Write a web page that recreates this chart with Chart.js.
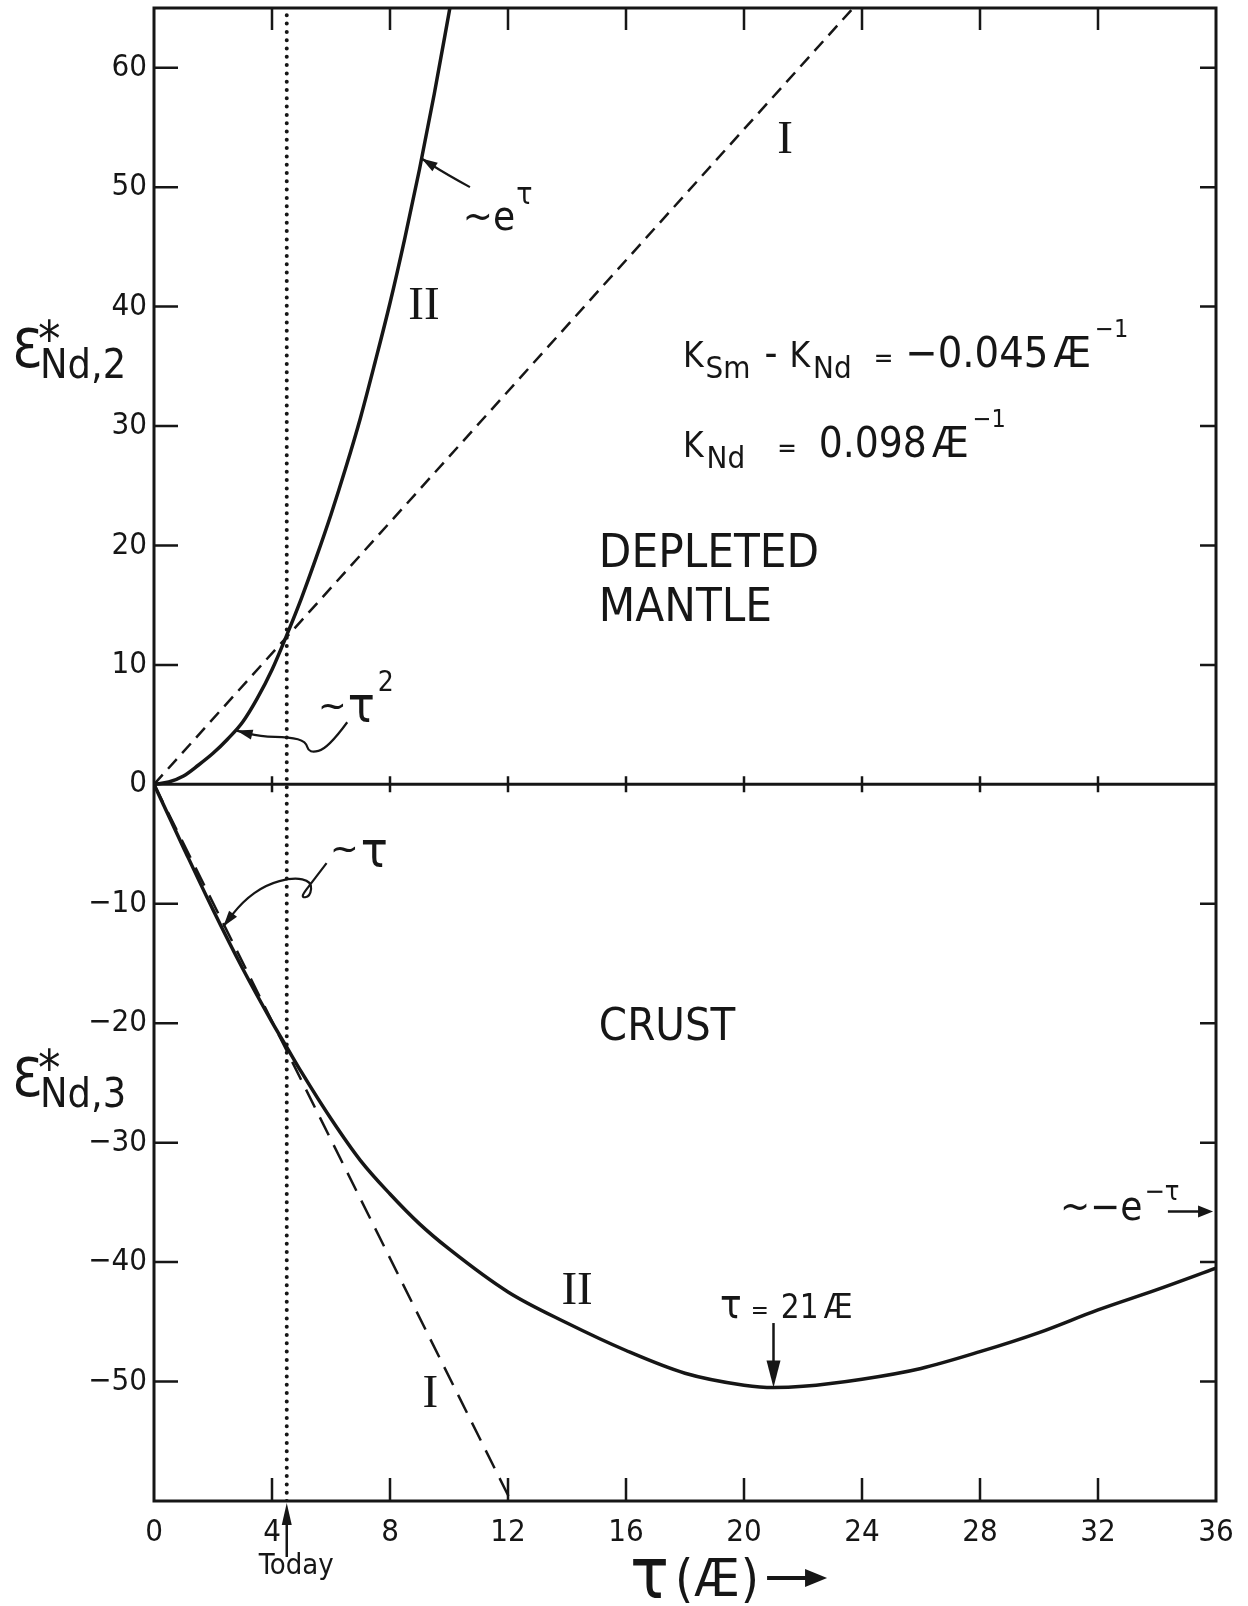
<!DOCTYPE html>
<html lang="en">
<head>
<meta charset="UTF-8">
<title>Nd isotope evolution</title>
<script src="https://cdn.jsdelivr.net/npm/chart.js"></script>
<style>
  html, body { margin: 0; padding: 0; background: #fff; }
  .chart-container { position: relative; width: 1248px; height: 1606px; }
</style>
</head>
<body>
<div class="chart-container">
  <canvas id="ndChart"></canvas>
</div>
<script>
// tau in AE, epsilon* in epsilon units
const tauTicks = [0, 4, 8, 12, 16, 20, 24, 28, 32, 36];
const epsTicks = [-50, -40, -30, -20, -10, 0, 10, 20, 30, 40, 50, 60];
const today = 4.5;

// depleted mantle, model II (solid) and model I (dashed)
const mantleTau = [0, 0.5, 1, 1.5, 2, 2.5, 3, 3.5, 4, 4.5, 5, 5.5, 6, 6.5, 7, 7.5, 8, 8.5, 9, 9.5, 10.03];
const mantleEps = [0, 0.2, 0.7, 1.6, 2.6, 3.8, 5.2, 7.2, 9.6, 12.5, 15.6, 19.0, 22.6, 26.5, 30.7, 35.4, 40.3, 45.7, 51.5, 57.8, 65];
const mantleLinTau = [0, 23.7];
const mantleLinEps = [0, 65];

// crust, model II (solid) and model I (dashed)
const crustTau = [0, 1, 2, 3, 4, 4.5, 5, 6, 7, 8, 9, 10, 12, 14, 16, 18, 20, 21, 22, 24, 26, 28, 30, 32, 34, 36];
const crustEps = [0, -5.3, -10.5, -15.4, -19.9, -22.0, -24.1, -28.0, -31.5, -34.3, -36.8, -38.9, -42.5, -45.1, -47.4, -49.3, -50.3, -50.5, -50.4, -49.8, -48.9, -47.5, -45.9, -44.0, -42.3, -40.5];
const crustLinTau = [0, 12.1];
const crustLinEps = [0, -60];

const INK = '#161616';
const NARROW = '"Liberation Sans Narrow", "DejaVu Sans Condensed", sans-serif';
const SERIF = '"Liberation Serif", "DejaVu Serif", serif';

const toPts = (xs, ys) => xs.map((x, i) => ({ x: x, y: ys[i] }));
const fmtEps = v => v < 0 ? '\u2212' + (-v) : String(v);

// squiggly pointer arrows, in (tau, eps)
const sqTau2 = [[6.55, 5.2], [5.9, 3.0], [5.25, 2.6], [5.15, 3.6], [4.6, 3.95], [3.6, 4.0], [2.8, 4.5]];
const sqTau1 = [[5.85, -6.6], [5.35, -8.2], [4.95, -9.5], [5.3, -9.4], [5.35, -8.1], [4.7, -7.8], [3.8, -8.4], [3.0, -9.8], [2.35, -11.9]];
const expArrow = [[10.71, 50.0], [9.9, 51.1], [9.07, 52.4]];

// draws consecutive text pieces, returns the x where the last one ends
function runs(ctx, x, y, parts) {
  let cx = x;
  parts.forEach(([t, font, gap, dy]) => {
    cx += gap || 0;
    ctx.font = font;
    ctx.fillText(t, cx, y + (dy || 0));
    cx += ctx.measureText(t).width;
  });
  return cx;
}

function head(ctx, tx, ty, fx, fy, len, half) {
  const a = Math.atan2(ty - fy, tx - fx);
  const c = Math.cos(a), s = Math.sin(a);
  ctx.beginPath();
  ctx.moveTo(tx, ty);
  ctx.lineTo(tx - len * c + half * s, ty - len * s - half * c);
  ctx.lineTo(tx - len * c - half * s, ty - len * s + half * c);
  ctx.closePath();
  ctx.fill();
}

function smooth(ctx, pts) {
  ctx.beginPath();
  ctx.moveTo(pts[0][0], pts[0][1]);
  for (let i = 1; i < pts.length - 1; i++) {
    const mx = (pts[i][0] + pts[i + 1][0]) / 2;
    const my = (pts[i][1] + pts[i + 1][1]) / 2;
    ctx.quadraticCurveTo(pts[i][0], pts[i][1], mx, my);
  }
  const last = pts[pts.length - 1];
  ctx.lineTo(last[0], last[1]);
  ctx.stroke();
}

const decor = {
  id: 'decor',
  afterDatasetsDraw(chart) {
    const { ctx, chartArea: a, scales } = chart;
    const px = v => scales.x.getPixelForValue(v);
    const py = v => scales.y.getPixelForValue(v);
    const P = p => [px(p[0]), py(p[1])];
    ctx.save();
    ctx.strokeStyle = INK;
    ctx.fillStyle = INK;
    ctx.lineCap = 'butt';

    // frame and the zero line
    ctx.lineWidth = 3;
    ctx.strokeRect(a.left, a.top, a.right - a.left, a.bottom - a.top);
    ctx.beginPath();
    ctx.moveTo(a.left, py(0));
    ctx.lineTo(a.right, py(0));
    ctx.stroke();

    // inward ticks
    ctx.lineWidth = 2.5;
    ctx.beginPath();
    tauTicks.slice(1, -1).forEach(t => {
      const x = px(t);
      ctx.moveTo(x, a.bottom); ctx.lineTo(x, a.bottom - 23);
      ctx.moveTo(x, a.top); ctx.lineTo(x, a.top + 22);
      ctx.moveTo(x, py(0) - 8); ctx.lineTo(x, py(0) + 8);
    });
    epsTicks.filter(v => v !== 0).forEach(v => {
      const y = py(v);
      ctx.moveTo(a.left, y); ctx.lineTo(a.left + 24, y);
      ctx.moveTo(a.right - 16, y); ctx.lineTo(a.right, y);
    });
    ctx.stroke();

    ctx.textAlign = 'left';
    ctx.textBaseline = 'alphabetic';

    // parameters
    const x0 = px(17.93);
    runs(ctx, x0, py(34.95), [
      ['K', '35px ' + NARROW], ['Sm', '31px ' + NARROW, 2, 11],
      ['-', '40px ' + NARROW, 14], ['K', '35px ' + NARROW, 12], ['Nd', '31px ' + NARROW, 3, 11],
      ['=', '26px ' + NARROW, 22], ['\u22120.045', '43px ' + NARROW, 12],
      ['\u00C6', '43px ' + NARROW, 5], ['\u22121', '25px ' + NARROW, 4, -30]
    ]);
    runs(ctx, x0, py(27.4), [
      ['K', '35px ' + NARROW], ['Nd', '31px ' + NARROW, 3, 11],
      ['=', '26px ' + NARROW, 32], ['0.098', '42px ' + NARROW, 22],
      ['\u00C6', '42px ' + NARROW, 5], ['\u22121', '25px ' + NARROW, 4, -30]
    ]);

    ctx.font = '47px ' + NARROW;
    ctx.fillText('DEPLETED', px(15.08), py(18.2));
    ctx.fillText('MANTLE', px(15.08), py(13.7));
    ctx.font = '45px ' + NARROW;
    ctx.fillText('CRUST', px(15.08), py(-21.4));

    // model numerals
    ctx.textAlign = 'center';
    ctx.font = '47px ' + SERIF;
    ctx.fillText('I', px(21.39), py(52.9));
    ctx.fillText('II', px(9.15), py(39.0));
    ctx.fillText('II', px(14.34), py(-43.5));
    ctx.fillText('I', px(9.37), py(-52.1));
    ctx.textAlign = 'left';

    // asymptotic labels
    runs(ctx, px(10.47), py(46.4), [['~e', '40px ' + NARROW], ['\u03C4', '30px ' + NARROW, 1, -26]]);
    runs(ctx, px(5.56), py(5.2), [['~', '38px ' + NARROW, 0, -4], ['\u03C4', '50px ' + NARROW, 1], ['2', '28px ' + NARROW, 3, -31]]);
    runs(ctx, px(5.97), py(-6.95), [['~', '38px ' + NARROW, 0, -6], ['\u03C4', '50px ' + NARROW, 2]]);
    runs(ctx, px(30.71), py(-36.5), [['~\u2212e', '40px ' + NARROW], ['\u2212\u03C4', '27px ' + NARROW, 2, -20]]);

    ctx.lineWidth = 2.2;
    let pts = sqTau2.map(P);
    smooth(ctx, pts);
    head(ctx, pts[pts.length - 1][0], pts[pts.length - 1][1], pts[pts.length - 2][0], pts[pts.length - 2][1], 16, 5);
    pts = sqTau1.map(P);
    smooth(ctx, pts);
    head(ctx, pts[pts.length - 1][0], pts[pts.length - 1][1], pts[pts.length - 2][0], pts[pts.length - 2][1], 16, 5);
    pts = expArrow.map(P);
    smooth(ctx, pts);
    head(ctx, pts[2][0], pts[2][1], pts[1][0], pts[1][1], 16, 5);

    // arrow to the right edge
    let ax = px(34.37), ay = py(-35.76);
    ctx.lineWidth = 2.5;
    ctx.beginPath(); ctx.moveTo(ax, ay); ctx.lineTo(px(35.9) - 10, ay); ctx.stroke();
    head(ctx, px(35.9), ay, ax, ay, 15, 6);

    // minimum of the crustal curve
    runs(ctx, px(19.19), py(-44.7), [['\u03C4', '40px ' + NARROW], ['=', '24px ' + NARROW, 9], ['21', '33px ' + NARROW, 12], ['\u00C6', '33px ' + NARROW, 5]]);
    ax = px(21);
    ctx.beginPath(); ctx.moveTo(ax, py(-45.1)); ctx.lineTo(ax, py(-50.5) - 10); ctx.stroke();
    head(ctx, ax, py(-50.5), ax, py(-45.1), 27, 7);

    // today marker below the axis
    ax = px(today);
    ctx.beginPath(); ctx.moveTo(ax, a.bottom + 56); ctx.lineTo(ax, a.bottom + 12); ctx.stroke();
    head(ctx, ax, a.bottom + 2, ax, a.bottom + 56, 22, 5);
    ctx.font = '29px ' + NARROW;
    ctx.fillText('Today', ax - 28, a.bottom + 73);

    // axis titles
    const tEnd = runs(ctx, 630, a.bottom + 97, [['\u03C4', '72px ' + NARROW], ['(', '52px ' + NARROW, 6, -2], ['\u00C6', '52px ' + NARROW, 1, -2], [')', '52px ' + NARROW, 1, -2]]);
    const ay2 = a.bottom + 77;
    ctx.lineWidth = 4;
    ctx.beginPath(); ctx.moveTo(tEnd + 8, ay2); ctx.lineTo(tEnd + 50, ay2); ctx.stroke();
    head(ctx, tEnd + 68, ay2, tEnd + 8, ay2, 22, 9);

    [[367, '2'], [1096, '3']].forEach(([base, k]) => {
      ctx.font = '54px ' + NARROW;
      ctx.fillText('\u0190', 12, base);
      ctx.font = '50px ' + NARROW;
      ctx.fillText('*', 38, base - 11);
      ctx.font = '41px ' + NARROW;
      ctx.fillText('Nd,' + k, 40, base + 11);
    });

    ctx.restore();
  }
};

new Chart(document.getElementById('ndChart'), {
  type: 'scatter',
  data: {
    datasets: [
      { data: toPts(mantleTau, mantleEps), showLine: true, pointRadius: 0, borderColor: INK, borderWidth: 3.5, cubicInterpolationMode: 'monotone' },
      { data: toPts(mantleLinTau, mantleLinEps), showLine: true, pointRadius: 0, borderColor: INK, borderWidth: 2.5, borderDash: [13, 8] },
      { data: toPts(crustTau, crustEps), showLine: true, pointRadius: 0, borderColor: INK, borderWidth: 3.5, cubicInterpolationMode: 'monotone' },
      { data: toPts(crustLinTau, crustLinEps), showLine: true, pointRadius: 0, borderColor: INK, borderWidth: 2.5, borderDash: [20, 11] },
      { data: [{ x: today, y: -60 }, { x: today, y: 65 }], showLine: true, pointRadius: 0, borderColor: INK, borderWidth: 4, borderDash: [0, 8.3], borderCapStyle: 'round' }
    ]
  },
  options: {
    responsive: true,
    maintainAspectRatio: false,
    animation: false,
    events: [],
    layout: { padding: { top: 8, right: 32, left: 0, bottom: 0 } },
    plugins: { legend: { display: false }, tooltip: { enabled: false } },
    scales: {
      x: {
        type: 'linear', min: 0, max: 36,
        grid: { display: false, drawTicks: false },
        border: { display: false },
        afterBuildTicks: s => { s.ticks = tauTicks.map(v => ({ value: v })); },
        afterFit: s => { s.height = 105; s.paddingLeft = 0; s.paddingRight = 0; },
        ticks: { color: INK, font: { family: NARROW, size: 31 }, padding: 13, maxRotation: 0, autoSkip: false }
      },
      y: {
        type: 'linear', min: -60, max: 65,
        grid: { display: false, drawTicks: false },
        border: { display: false },
        afterBuildTicks: s => { s.ticks = epsTicks.map(v => ({ value: v })); },
        afterFit: s => { s.width = 154; s.paddingTop = 0; s.paddingBottom = 0; },
        ticks: { color: INK, font: { family: NARROW, size: 31 }, padding: 7, autoSkip: false, callback: fmtEps }
      }
    }
  },
  plugins: [decor]
});
</script>
</body>
</html>
